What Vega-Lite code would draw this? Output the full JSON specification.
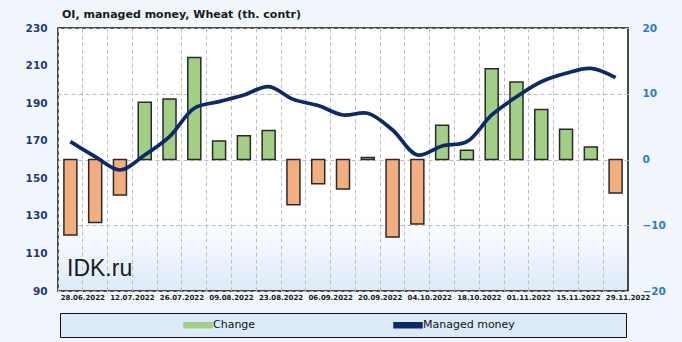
{
  "$schema": "https://vega.github.io/schema/vega-lite/v6.json",
  "width": 570,
  "height": 263,
  "autosize": {"type": "none"},
  "padding": {"left": 58, "top": 28, "right": 54, "bottom": 51},
  "background": "#F0F6FC",
  "title": {"text": "OI, managed money, Wheat (th. contr)", "anchor": "start", "frame": "group", "dx": 4, "offset": 3, "font": "DejaVu Sans", "fontSize": 11, "fontWeight": "bold", "color": "#1a1a1a"},
  "data": {"values": [
    {"date": "28.06.2022", "change": -11.5, "mm": 169.5},
    {"date": "05.07.2022", "change": -9.6, "mm": 161.5},
    {"date": "12.07.2022", "change": -5.4, "mm": 154.4},
    {"date": "19.07.2022", "change": 8.7, "mm": 162.4},
    {"date": "26.07.2022", "change": 9.2, "mm": 172.2},
    {"date": "02.08.2022", "change": 15.5, "mm": 187.3},
    {"date": "09.08.2022", "change": 2.8, "mm": 190.8},
    {"date": "16.08.2022", "change": 3.6, "mm": 194.3},
    {"date": "23.08.2022", "change": 4.4, "mm": 198.8},
    {"date": "30.08.2022", "change": -6.9, "mm": 192.0},
    {"date": "06.09.2022", "change": -3.7, "mm": 188.7},
    {"date": "13.09.2022", "change": -4.5, "mm": 183.7},
    {"date": "20.09.2022", "change": 0.3, "mm": 184.6},
    {"date": "27.09.2022", "change": -11.8, "mm": 175.7},
    {"date": "04.10.2022", "change": -9.8, "mm": 162.4},
    {"date": "11.10.2022", "change": 5.2, "mm": 167.2},
    {"date": "18.10.2022", "change": 1.4, "mm": 169.5},
    {"date": "25.10.2022", "change": 13.8, "mm": 183.7},
    {"date": "01.11.2022", "change": 11.8, "mm": 193.4},
    {"date": "08.11.2022", "change": 7.6, "mm": 201.4},
    {"date": "15.11.2022", "change": 4.6, "mm": 205.9},
    {"date": "22.11.2022", "change": 1.9, "mm": 208.5},
    {"date": "29.11.2022", "change": -5.1, "mm": 203.6}
  ]},
  "layer": [
    {
      "mark": {"type": "bar", "width": 13, "stroke": "#2a2a2a", "strokeWidth": 1.5},
      "encoding": {
        "x": {"field": "date", "type": "ordinal", "sort": null,
          "scale": {"paddingInner": 0, "paddingOuter": 0},
          "axis": {"title": null, "bandPosition": 0, "labelOffset": 12.4, "labelAngle": 0,
            "labelExpr": "test(/^(28\\.06|12\\.07|26\\.07|09\\.08|23\\.08|06\\.09|20\\.09|04\\.10|18\\.10|01\\.11|15\\.11|29\\.11)/, datum.value) ? datum.value : ''",
            "labelOverlap": false, "labelBound": false, "labelFlush": false,
            "labelFont": "DejaVu Sans", "labelFontWeight": "bold", "labelFontSize": 7, "labelColor": "#1a1a1a", "labelPadding": 2,
            "ticks": false, "domain": false, "grid": true, "gridDash": [4, 3], "gridColor": "#BDBDBD"}},
        "y": {"field": "change", "type": "quantitative", "scale": {"domain": [-20, 20]},
          "axis": {"orient": "right", "title": null, "values": [-20, -10, 0, 10, 20], "tickCount": 10, "grid": true, "gridDash": [4, 3], "gridColor": "#BDBDBD",
            "ticks": false, "domain": false, "labelFlush": false, "labelOverlap": false, "labelFont": "DejaVu Sans", "labelFontWeight": "bold", "labelFontSize": 10.5, "labelColor": "#2E7CC4", "labelPadding": 14}},
        "color": {
          "condition": {"test": "datum.change < 0", "value": "#F2AE7E"},
          "datum": "Change",
          "scale": {"domain": ["Change", "Managed money"], "range": ["#A2CF86", "#0B2A6B"]},
          "legend": {"orient": "none", "legendX": 2, "legendY": 285, "direction": "horizontal", "title": null,
            "fillColor": "#DDEBF8", "strokeColor": "#111", "padding": 6, "symbolOffset": 126, "columnPadding": 20,
            "labelFont": "DejaVu Sans", "labelFontSize": 11, "labelColor": "#111", "labelOffset": 9, "labelLimit": 500,
            "labelExpr": "datum.label == 'Managed money' ? datum.label + '\u00a0\u00a0\u00a0\u00a0\u00a0\u00a0\u00a0\u00a0\u00a0\u00a0\u00a0\u00a0\u00a0\u00a0\u00a0\u00a0\u00a0\u00a0\u00a0\u00a0\u00a0\u00a0\u00a0\u00a0\u00a0\u00a0\u00a0\u00a0\u00a0\u00a0\u200b' : datum.label",
            "symbolSize": 100, "symbolType": "M-2.8,-0.5H2.8V0.5H-2.8Z",
            "encode": {"symbols": {"update": {
              "shape": {"signal": "datum.value === 'Change' ? 'M-2.8,-0.5H2.8V0.5H-2.8Z' : 'M-3.7,-0.4H3.7V0.4H-3.7Z'"},
              "stroke": {"signal": "datum.value === 'Change' ? '#333333' : 'transparent'"},
              "strokeWidth": {"value": 1}
            }}}}
        }
      }
    },
    {
      "layer": [
        {
          "mark": {"type": "line", "interpolate": "catmull-rom", "strokeWidth": 3.7},
          "encoding": {
            "x": {"field": "date", "type": "ordinal", "sort": null},
            "y": {"field": "mm", "type": "quantitative", "scale": {"domain": [90, 230]},
              "axis": {"orient": "left", "title": null, "values": [90, 110, 130, 150, 170, 190, 210, 230], "tickCount": 10, "grid": false,
                "ticks": false, "domain": false, "labelFlush": false, "labelOverlap": false, "labelFont": "DejaVu Sans", "labelFontWeight": "bold", "labelFontSize": 10.5, "labelColor": "#1F3B70", "labelPadding": 11}},
            "color": {"datum": "Managed money"}
          }
        },
        {
          "data": {"values": [{"site": "IDK.ru"}]},
          "mark": {"type": "text", "align": "left", "baseline": "alphabetic", "dx": 9, "font": "Liberation Sans", "fontSize": 23, "color": "#1a1a1a"},
          "encoding": {
            "x": {"datum": "28.06.2022", "type": "ordinal", "bandPosition": 0},
            "y": {"datum": 98, "type": "quantitative"},
            "text": {"field": "site"}
          }
        }
      ]
    }
  ],
  "resolve": {"scale": {"y": "independent"}},
  "config": {
    "view": {"stroke": "#111", "strokeWidth": 1.5,
      "fill": {"gradient": "linear", "x1": 0, "y1": 0, "x2": 0, "y2": 1,
        "stops": [{"offset": 0, "color": "#ffffff"}, {"offset": 0.72, "color": "#ffffff"}, {"offset": 1, "color": "#DCEAF8"}]}}
  }
}
